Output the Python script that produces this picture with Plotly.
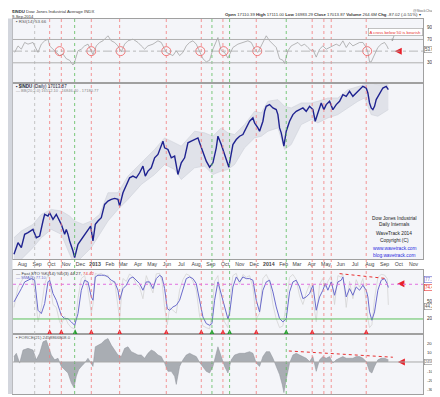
import math
import pandas as pd
import plotly.graph_objects as go

START = pd.Timestamp("2012-08-01")

# ---------------- data (x = days since 2012-08-01) ----------------
price = [(-17.4, 12636), (-9, 12905), (-2, 12790), (5, 13101), (12, 13140), (22.5, 13219), (29.5, 13022),
         (36.5, 13060), (43.5, 13420), (47, 13582), (54, 13541), (57.5, 13623), (64.5, 13460), (71.5, 13582),
         (75, 13500), (82, 13339), (89, 13101), (92.5, 13219), (96, 13101), (99.5, 12944), (106.5, 12713),
         (110, 12561), (117, 12867), (124, 12983), (131, 13101), (138, 13219), (143.6, 13299), (148.5, 12944),
         (153.4, 13339), (159, 13420), (166, 13500), (173, 13829), (180, 13913), (187, 13955), (194, 13980),
         (201, 13955), (204.5, 13788), (211.5, 14123), (218.5, 14337), (225.5, 14511), (232.5, 14555),
         (239.5, 14511), (246.5, 14643), (253.5, 14820), (258.4, 14555), (264, 14687), (271, 14775),
         (278, 15044), (285, 15135), (292, 15364), (295.5, 15503), (299, 15318), (306, 15272), (313, 15044),
         (320, 15090), (327, 14598), (334, 14909), (341, 15044), (348, 15457), (355, 15503), (362, 15550),
         (369, 15596), (372.5, 15457), (379.5, 15180), (386.5, 14954), (393.5, 14793), (400.5, 14909),
         (407.5, 15318), (411, 15643), (418, 15410), (425, 15135), (430, 15000), (434, 14790), (437.5, 15050),
         (442.5, 15410), (449.5, 15550), (456.5, 15643), (463.5, 15690), (470.5, 15880), (477.5, 16072),
         (484.5, 16169), (488, 16024), (495, 15880), (498.5, 15785), (505.5, 16072), (509, 16364),
         (512.5, 16512), (519.5, 16562), (526.5, 16463), (533.5, 16413), (537, 16266), (540.5, 15880),
         (544, 15738), (549.6, 15364), (554.5, 15785), (561.5, 16072), (568.5, 16266), (575.5, 16364),
         (582.5, 16413), (589.5, 16463), (596.5, 16364), (603.5, 16512), (610.5, 16413), (615.4, 16072),
         (621, 16315), (628, 16612), (633.6, 16413), (638.5, 16562), (645.5, 16662), (652.5, 16413),
         (659.5, 16562), (666.5, 16662), (673.5, 16863), (680.5, 16812), (687.5, 16965), (694.5, 16812),
         (701.5, 16914), (708.5, 17016), (715.5, 17118), (722.5, 17067), (726, 16914), (729.5, 16612),
         (733, 16463), (736.5, 16413), (740, 16512), (743.5, 16712), (750.5, 16914), (757.5, 17067),
         (764.5, 17118), (769, 17013.87)]

bands = [(-17.4, 13022, 12411), (-2, 13180, 12524), (22.5, 13339, 12790), (40, 13582, 13022),
         (61, 13705, 13219), (82, 13664, 13101), (99.5, 13541, 12636), (110, 13420, 12411),
         (127.5, 13339, 12598), (145, 13420, 12790), (162.5, 13582, 13101), (180, 14123, 13420),
         (201, 14123, 13705), (222, 14555, 13955), (250, 14909, 14337), (278, 15272, 14598),
         (299, 15596, 14865), (320, 15457, 14731), (334, 15364, 14466), (362, 15785, 14775),
         (383, 15738, 14820), (400.5, 15643, 14598), (418, 15880, 14687), (432, 15738, 14731),
         (446, 15690, 14865), (467, 15976, 15318), (488, 16364, 15596), (502, 16315, 15643),
         (516, 16662, 15785), (537, 16712, 15880), (551, 16512, 15272), (565, 16463, 15410),
         (586, 16612, 15976), (607, 16612, 16120), (621, 16662, 16024), (642, 16762, 16169),
         (663, 16762, 16266), (684, 17016, 16463), (705, 17118, 16662), (719, 17170, 16762),
         (733, 17221, 16266), (747, 17170, 16218), (769, 17170, 16413)]

rsi = [(-16, 47.8), (-9, 59), (-2, 53.4), (5, 64.9), (12, 62), (22.5, 64.9), (26, 59), (33, 47.8), (40, 62),
       (47, 67.7), (54, 70.6), (57.5, 59), (64.5, 53.4), (71.5, 47.8), (78.5, 42.4), (85.5, 45.1), (92.5, 37),
       (99.5, 34.3), (106.5, 26.2), (110, 31.6), (117, 50.6), (124, 53.4), (131, 59), (138, 62), (145, 48),
       (148.5, 44), (155.5, 59), (162.5, 64.9), (169.5, 67.7), (176.5, 73.4), (180, 76.3), (187, 67.7),
       (194, 64.9), (201, 59), (208, 48.9), (215, 62), (222, 67.7), (232.5, 70.6), (243, 64.9), (250, 59),
       (257, 53.4), (264, 59), (274.5, 62), (285, 67.7), (292, 64.9), (299, 53.4), (302.5, 48), (309.5, 45.1),
       (316.5, 42.4), (323.5, 50.6), (330.5, 42.4), (337.5, 47.8), (344.5, 59), (351.5, 64.9), (358.5, 67.7),
       (365.5, 62), (372.5, 47.8), (379.5, 37), (386.5, 31.6), (393.5, 34.3), (400.5, 53.4), (407.5, 67.7),
       (411, 73.4), (418, 50.6), (425, 47.8), (432, 38), (442.5, 56.3), (453, 62), (463.5, 64.9), (474, 67.7),
       (481, 64.9), (488, 53.4), (495, 47.8), (502, 59), (509, 70.6), (512.5, 76.3), (519.5, 67.7),
       (526.5, 62), (533.5, 56.3), (540.5, 37), (547.5, 34.3), (551, 28.9), (558, 50.6), (565, 59), (572, 62),
       (579, 64.9), (586, 59), (593, 62), (600, 56.3), (607, 50.6), (610.5, 53), (617.5, 39.7), (624.5, 53.4),
       (631.5, 59), (638.5, 53.4), (645.5, 56.3), (652.5, 59), (659.5, 62), (666.5, 59), (673.5, 67.7),
       (680.5, 56.3), (687.5, 64.9), (694.5, 59), (701.5, 62), (708.5, 64.9), (715.5, 64.9), (722.5, 56.3),
       (726, 47.8), (729.5, 31.6), (733, 31.6), (740, 45.1), (747, 56.3), (754, 62), (761, 64.9), (766, 59),
       (769, 53.66)]

# (day, %D purple, %K grey)
sto = [(-17.4, 49.5, 40), (-9, 61, 75), (-2, 72.5, 85), (5, 84.1, 95), (12, 87, 92), (19, 89.8, 97),
       (26, 87, 70), (33, 35.1, 15), (40, 29.3, 40), (47, 46.6, 80), (54, 84.1, 97), (57.5, 87, 88),
       (64.5, 63.9, 45), (71.5, 52.4, 40), (78.5, 35.1, 15), (82, 26.4, 10), (89, 20.6, 25), (96, 20.6, 12),
       (103, 14.9, 5), (110, 9.1, 3), (117, 29.3, 55), (124, 69.7, 90), (131, 87, 95), (138, 84.1, 70),
       (145, 58.1, 30), (148.5, 52.4, 45), (153.4, 92.7, 99), (159, 95.6, 97), (166, 95.6, 99),
       (173, 95.6, 94), (180, 92.7, 96), (187, 87, 80), (194, 84.1, 85), (201, 69.7, 45), (204.5, 52.4, 20),
       (211.5, 72.5, 90), (218.5, 78.3, 85), (225.5, 89.8, 98), (232.5, 92.7, 92), (239.5, 87, 80),
       (246.5, 81.2, 75), (253.5, 69.7, 55), (260.5, 84.1, 95), (267.5, 84.1, 80), (274.5, 72.5, 65),
       (281.5, 89.8, 98), (288.5, 95.6, 99), (293.4, 92.7, 85), (299, 72.5, 40), (304.6, 37.9, 10),
       (309.5, 35.1, 40), (316.5, 40.8, 35), (323.5, 43.7, 30), (330.5, 52.4, 70), (337.5, 69.7, 88),
       (344.5, 89.8, 98), (351.5, 92.7, 95), (358.5, 89.8, 85), (365.5, 81.2, 70), (372.5, 55.2, 25),
       (379.5, 23.5, 8), (386.5, 12, 5), (393.5, 9.1, 3), (398.4, 12, 30), (404, 52.4, 85), (411, 84.1, 95),
       (418, 63.9, 35), (425, 40.8, 15), (432, 20, 5), (435.5, 29.3, 50), (442.5, 75.4, 95),
       (449.5, 92.7, 99), (456.5, 84.1, 80), (463.5, 92.7, 97), (470.5, 89.8, 92), (477.5, 89.8, 95),
       (484.5, 87, 75), (491.5, 52.4, 20), (498.5, 32.2, 30), (505.5, 69.7, 90), (512.5, 84.1, 97),
       (519.5, 87, 85), (526.5, 66.8, 45), (533.5, 40.8, 20), (540.5, 20.6, 5), (547.5, 14.9, 8),
       (554.5, 20.6, 45), (561.5, 66.8, 92), (568.5, 84.1, 97), (575.5, 87, 88), (582.5, 75.4, 60),
       (589.5, 55.2, 45), (596.5, 58.1, 65), (603.5, 63.9, 80), (610.5, 78.3, 55), (617.5, 35.1, 15),
       (624.5, 58.1, 80), (631.5, 69.7, 90), (636.4, 81.2, 75), (642, 69.7, 85), (649, 84.1, 95),
       (656, 61, 45), (663, 84.1, 95), (670, 87, 92), (673.5, 92.7, 98), (680.5, 58.1, 40), (687.5, 72.5, 85),
       (694.5, 61, 55), (701.5, 75.4, 88), (708.5, 69.7, 75), (715.5, 78.3, 90), (722.5, 69.7, 50),
       (726, 58.1, 20), (729.5, 32.2, 5), (734.4, 17.8, 10), (740, 32.2, 55), (747, 69.7, 92), (754, 87, 97),
       (761, 89.8, 96), (766.6, 81.2, 90), (769, 74.42, 44.27)]

force = [(-17.4, 5.8), (-12.5, 9.3), (-5.5, -1.2), (1.5, 12.8), (12, 14.6), (22.5, 12.8), (29.5, 2.3),
         (36.5, 9.3), (43.5, 21.6), (50.5, 23.3), (54, 18.1), (61, 7.5), (68, 2.3), (75, 4), (82, -4.7),
         (89, -8.2), (96, -11.8), (103, -22.3), (108.6, -27.5), (113.5, -15.3), (118.4, -8.2), (124, -4.7),
         (131, -1.2), (138, 4), (145, -1.2), (148.5, -4.7), (153.4, 16.3), (159, 18.1), (166, 19.8),
         (173, 23.3), (180, 25.1), (187, 18.1), (194, 12.8), (201, 7.5), (208, 5.8), (215, 14.6), (222, 16.3),
         (229, 11.1), (236, 9.3), (243, 7.5), (250, 7.5), (257, 4), (264, 9.3), (271, 12.8), (278, 11.1),
         (285, 7.5), (292, 5.8), (299, -1.2), (306, -10), (313, -10), (320, -15.3), (323.5, -24),
         (330.5, -4.7), (337.5, 2.3), (344.5, 7.5), (351.5, 9.3), (358.5, 7.5), (365.5, 5.8), (372.5, -0.5),
         (379.5, -4.7), (386.5, -10), (393.5, -11.8), (400.5, -4.7), (407.5, 9.3), (411, 16.3), (418, 5.8),
         (425, -4.7), (432, -11.8), (439, 2.3), (446, 7.5), (456.5, 9.3), (467, 9.3), (477.5, 11.1),
         (484.5, 9.3), (491.5, -1.2), (498.5, -4.7), (505.5, 5.8), (512.5, 11.1), (519.5, 11.1), (526.5, 4),
         (533.5, -4.7), (540.5, -13.5), (546, -24), (549.6, -32.8), (554.5, -18.8), (561.5, -1.2),
         (568.5, 7.5), (575.5, 9.3), (582.5, 7.5), (589.5, 5.8), (596.5, 4), (603.5, 0.5), (610.5, 5.8),
         (617.5, -10), (624.5, 2.3), (631.5, 5.8), (638.5, 4), (645.5, 5.8), (652.5, -1.2), (659.5, 2.3),
         (666.5, 4), (673.5, 5.8), (680.5, 4), (687.5, 4), (694.5, 4), (701.5, 5.8), (708.5, 5.8),
         (715.5, 4), (722.5, 0.5), (729.5, -10), (734.4, -11.8), (740, -4.7), (747, 2.3), (754, 4),
         (761, 4), (769, 2.46)]

rsi_circles = [78.5, 145, 206.6, 302.5, 374, 423, 493.6, 724.6]
red_lines = [57.5, 82, 145, 204.5, 302.5, 376, 421.5, 491.5, 609, 633.6, 649, 722.5]
green_lines = [110, 398.4, 435.5, 554.5]
grey_lines = [26]
red_arrows = [57.5, 82, 145, 204.5, 302.5, 376, 421.5, 491.5, 609, 722.5]
green_arrows = [111, 398.4, 435.5, 554.5]
sto_trend = [(666.5, 98.4), (766.5, 89.8)]
force_trend = [(560, 11.8), (778.5, 5.1)]

month_ticks = ["2012-08-01", "2012-09-01", "2012-10-01", "2012-11-01", "2012-12-01", "2013-01-01",
               "2013-02-01", "2013-03-01", "2013-04-01", "2013-05-01", "2013-06-01", "2013-07-01",
               "2013-08-01", "2013-09-01", "2013-10-01", "2013-11-01", "2013-12-01", "2014-01-01",
               "2014-02-01", "2014-03-01", "2014-04-01", "2014-05-01", "2014-06-01", "2014-07-01",
               "2014-08-01", "2014-09-01", "2014-10-01", "2014-11-01"]
month_labels = ["Aug", "Sep", "Oct", "Nov", "Dec", "<b>2013</b>", "Feb", "Mar", "Apr", "May", "Jun", "Jul",
                "Aug", "Sep", "Oct", "Nov", "Dec", "<b>2014</b>", "Feb", "Mar", "Apr", "May", "Jun", "Jul",
                "Aug", "Sep", "Oct", "Nov"]
price_ticks = [12600, 12800, 13000, 13200, 13400, 13600, 13800, 14000, 14200, 14400, 14600, 14800,
               15000, 15200, 15400, 15600, 15800, 16000, 16200, 16400, 16600, 16800, 17200]
rsi_ticks = [30, 70, 90]
sto_ticks = [20, 50]
force_ticks = [20, 10, -10, -20, -30]
force_labels = ["20.0000B", "10.0000B", "-10.0000B", "-20.0000B", "-30.0000B"]


def dts(days):
    return [START + pd.Timedelta(hours=round(v * 24)) for v in days]


def col(rows, i):
    return [r[i] for r in rows]


# ---------------- figure ----------------
fig = go.Figure()
FONT = "Liberation Sans, Arial, sans-serif"

# Bollinger band
fig.add_trace(go.Scatter(x=dts(col(bands, 0)), y=col(bands, 1), mode="lines",
                         line=dict(color="#cdd0d8", width=0.6), xaxis="x2", yaxis="y2", hoverinfo="skip"))
fig.add_trace(go.Scatter(x=dts(col(bands, 0)), y=col(bands, 2), mode="lines", fill="tonexty",
                         fillcolor="#e0e2e9", line=dict(color="#cdd0d8", width=0.6),
                         xaxis="x2", yaxis="y2", hoverinfo="skip"))
fig.add_trace(go.Scatter(x=dts(col(price, 0)), y=col(price, 1), mode="lines",
                         line=dict(color="#1f2390", width=1.4), xaxis="x2", yaxis="y2"))

# RSI
fig.add_trace(go.Scatter(x=dts(col(rsi, 0)), y=col(rsi, 1), mode="lines",
                         line=dict(color="#9a9a9a", width=0.7), xaxis="x3", yaxis="y"))
fig.add_trace(go.Scatter(x=dts(rsi_circles), y=[50] * len(rsi_circles), mode="markers",
                         marker=dict(symbol="circle-open", size=9, color="#f05a5a", line=dict(width=0.8)),
                         xaxis="x3", yaxis="y"))
fig.add_trace(go.Scatter(x=dts([782.5]), y=[50], mode="markers",
                         marker=dict(symbol="arrow-left", size=7, color="#e8202a"), xaxis="x3", yaxis="y"))

# Stochastics
fig.add_trace(go.Scatter(x=dts(col(sto, 0)), y=col(sto, 2), mode="lines",
                         line=dict(color="#d4d4d4", width=0.8), xaxis="x4", yaxis="y3"))
fig.add_trace(go.Scatter(x=dts(col(sto, 0)), y=col(sto, 1), mode="lines",
                         line=dict(color="#6b6bcc", width=1.0), xaxis="x4", yaxis="y3"))
fig.add_trace(go.Scatter(x=dts(col(sto_trend, 0)), y=col(sto_trend, 1), mode="lines",
                         line=dict(color="#e83030", width=1, dash="dot"), xaxis="x4", yaxis="y3"))
fig.add_trace(go.Scatter(x=dts(red_arrows), y=[2] * len(red_arrows), mode="markers",
                         marker=dict(symbol="arrow-up", size=8, color="#e8202a"), xaxis="x4", yaxis="y3"))
fig.add_trace(go.Scatter(x=dts(green_arrows), y=[2] * len(green_arrows), mode="markers",
                         marker=dict(symbol="arrow-up", size=8, color="#1f9a2a"), xaxis="x4", yaxis="y3"))
fig.add_trace(go.Scatter(x=dts([788]), y=[81], mode="markers",
                         marker=dict(symbol="arrow-left", size=7, color="#e8202a"), xaxis="x4", yaxis="y3"))

# Force index
fig.add_trace(go.Scatter(x=dts(col(force, 0)), y=col(force, 1), mode="lines", fill="tozeroy",
                         fillcolor="#a9adb3", line=dict(color="#8f939a", width=0.5), xaxis="x", yaxis="y4"))
fig.add_trace(go.Scatter(x=dts(col(force_trend, 0)), y=col(force_trend, 1), mode="lines",
                         line=dict(color="#e83030", width=1, dash="dot"), xaxis="x", yaxis="y4"))
fig.add_trace(go.Scatter(x=dts([789]), y=[0], mode="markers",
                         marker=dict(symbol="arrow-left", size=7, color="#e8202a"), xaxis="x", yaxis="y4"))

# ---------------- layout ----------------
L, R, T, B = 5, 25, 10, 11
W, H = 440, 397
PW, PH = W - L - R, H - T - B


def pxx(x):
    return (x - L) / PW


def pxy(y):
    return (H - B - y) / PH


def dom(top, bottom):
    return [pxy(bottom), pxy(top)]


xrange = [START + pd.Timedelta(days=-19.5), START + pd.Timedelta(days=841.8)]
xcommon = dict(type="date", range=xrange, showgrid=False, zeroline=False, showline=True,
               linecolor="#a0a0a0", linewidth=1, mirror=True, ticks="",
               tickvals=month_ticks, ticktext=month_labels, automargin=False,
               tickfont=dict(size=5.2, color="#444", family=FONT))
ycommon = dict(side="right", showgrid=False, zeroline=False, showline=True, linecolor="#a0a0a0",
               linewidth=1, mirror=True, ticks="", automargin=False, showticklabels=False)

fig.update_layout(
    width=W, height=H, margin=dict(l=L, r=R, t=T, b=B), showlegend=False,
    paper_bgcolor="white", plot_bgcolor="#f4f5f9",
    font=dict(family=FONT, size=6, color="#333"),
    xaxis=dict(xcommon, anchor="y4", showticklabels=False),
    xaxis2=dict(xcommon, anchor="y2", matches="x"),
    xaxis3=dict(xcommon, anchor="y", matches="x", showticklabels=False),
    xaxis4=dict(xcommon, anchor="y3", matches="x", showticklabels=False),
    yaxis=dict(ycommon, anchor="x3", domain=dom(10.5, 74.5), range=[-3.8, 106]),
    yaxis2=dict(ycommon, anchor="x2", domain=dom(75, 251), type="log",
                range=[math.log10(12530), math.log10(17222)]),
    yaxis3=dict(ycommon, anchor="x4", domain=dom(262, 326), range=[-6, 104.7]),
    yaxis4=dict(ycommon, anchor="x", domain=dom(326, 386), range=[-34.3, 30]),
)

shapes = []
for d in red_lines:
    shapes.append(dict(type="line", xref="x", yref="paper", x0=dts([d])[0], x1=dts([d])[0], y0=0, y1=1,
                       line=dict(color="#f27c7c", width=0.8, dash="dot")))
for d in green_lines:
    shapes.append(dict(type="line", xref="x", yref="paper", x0=dts([d])[0], x1=dts([d])[0], y0=0, y1=1,
                       line=dict(color="#5cbc5c", width=0.8, dash="dot")))
for d in grey_lines:
    shapes.append(dict(type="line", xref="x", yref="paper", x0=dts([d])[0], x1=dts([d])[0], y0=0, y1=1,
                       line=dict(color="#b8b8b8", width=0.8, dash="dot")))
# reference levels
shapes += [
    dict(type="line", xref="paper", yref="y", x0=0, x1=1, y0=70, y1=70, line=dict(color="#b0b0b0", width=1)),
    dict(type="line", xref="paper", yref="y", x0=0, x1=1, y0=30, y1=30, line=dict(color="#b0b0b0", width=1)),
    dict(type="line", xref="paper", yref="y", x0=0, x1=1, y0=50, y1=50,
         line=dict(color="#a8a8a8", width=0.8, dash="dashdot")),
    dict(type="line", xref="paper", yref="y3", x0=0, x1=1, y0=80, y1=80,
         line=dict(color="#e070e0", width=1, dash="dot")),
    dict(type="line", xref="paper", yref="y3", x0=0, x1=1, y0=20, y1=20, line=dict(color="#5cc05c", width=1)),
    dict(type="line", xref="paper", yref="y4", x0=0, x1=1, y0=0, y1=0, line=dict(color="#a8a8a8", width=1)),
    dict(type="rect", xref="paper", yref="paper", x0=pxx(0), x1=pxx(4.5), y0=pxy(386), y1=pxy(10.5),
         fillcolor="#d3d6dd", line=dict(width=0), layer="above"),
]
fig.update_layout(shapes=shapes)

ann = []


def text(x, y, s, size=4.6, color="#333", anchor="left"):
    ann.append(dict(xref="paper", yref="paper", x=pxx(x), y=pxy(y), text=s, showarrow=False,
                    xanchor=anchor, yanchor="middle", font=dict(size=size, color=color, family=FONT)))


# bottom month row (drawn as annotations on the date axis)
for tv, tt in zip(month_ticks, month_labels):
    ann.append(dict(xref="x", yref="paper", x=tv, y=pxy(391), text=tt, showarrow=False,
                    xanchor="center", yanchor="middle", font=dict(size=5.0, color="#444", family=FONT)))


# right-hand value scales
def ylab(yref, vals, labels, size=4.6):
    for v, s in zip(vals, labels):
        ann.append(dict(xref="paper", yref=yref, x=1, y=v, text=s, showarrow=False, xanchor="left",
                        yanchor="middle", xshift=1.5, font=dict(size=size, color="#333", family=FONT)))


ylab("y", rsi_ticks, [str(v) for v in rsi_ticks])
ylab("y2", price_ticks, [str(v) for v in price_ticks], 4.6)
ylab("y3", sto_ticks, [str(v) for v in sto_ticks])
ylab("y4", force_ticks, force_labels, 4.2)

text(2, 3.5, "<b>$INDU</b> Dow Jones Industrial Average INDX", 4.3)
text(2, 8.5, "9-Sep-2014", 4.1)
text(415, 7, "<b>Open</b> 17110.39 <b>High</b> 17111.00 <b>Low</b> 16983.29 <b>Close</b> 17013.87 "
             "<b>Volume</b> 264.6M <b>Chg</b> -87.02 (-0.51%) ▾", 4.3, anchor="right")
text(438, 2.5, "@StockCharts.com", 3.6, "#666", anchor="right")
text(6, 14, "▪ RSI(14) 53.66", 4.4, "#555")
text(6, 78, "<b>▪ $INDU</b> (Daily) 17013.87", 4.5, "#223")
text(6, 82, "— BB(20,2.0) 16512.10 - 16846.40 - 17180.77", 4.0, "#888")
text(6, 265, "— Fast STO %K(14) %D(3) 44.27, <span style='color:#e83030'>74.42</span>", 4.3, "#333")
text(6, 269, "— SMA(3) 77.10", 4.0, "#6b6bcc")
text(6, 329, "▪ FORCE(21) 2458866808.0", 4.3, "#555")

for y, s, c in [(210, "Dow Jones Industrial", "#222"), (216.7, "Daily Internals", "#222"),
                (225, "WaveTrack 2014", "#222"), (232.3, "Copyright (C)", "#222"),
                (240, "www.wavetrack.com", "#2a2ae0"), (247.3, "blog.wavetrack.com", "#2a2ae0")]:
    text(386, y, s, 4.8, c, anchor="center")


def vbox(yref, yval, s, color="#333", border="#888", size=4.5):
    ann.append(dict(xref="paper", yref=yref, x=1, y=yval, text=s, showarrow=False, xanchor="left",
                    yanchor="middle", xshift=1, bgcolor="white", bordercolor=border, borderwidth=0.6,
                    borderpad=0.3, font=dict(size=size, color=color, family=FONT)))


vbox("y", 53.66, "53.66", "#444")
vbox("y2", 17013.87, "<b>17013.87</b>", "#1f2390", "#1f2390", 4.2)
vbox("y3", 89, "77.10", "#6b6bcc", "#6b6bcc")
vbox("y3", 74, "74.42", "#e83030", "#e83030")
vbox("y3", 41, "44.27", "#555")
vbox("y4", 0.5, "2458866808.0", "#555", "#888", 3.6)

ann.append(dict(xref="x3", yref="y", x=START + pd.Timedelta(days=776.5), y=67,
                text="A cross below 50 is bearish", showarrow=True, ax=3.5, ay=-9,
                arrowhead=2, arrowsize=0.6, arrowwidth=0.8, arrowcolor="#999",
                bgcolor="white", bordercolor="#999", borderwidth=0.6, borderpad=1,
                font=dict(size=4.2, color="#e83030", family=FONT)))

fig.update_layout(annotations=ann)

fig.write_html("out.html")
